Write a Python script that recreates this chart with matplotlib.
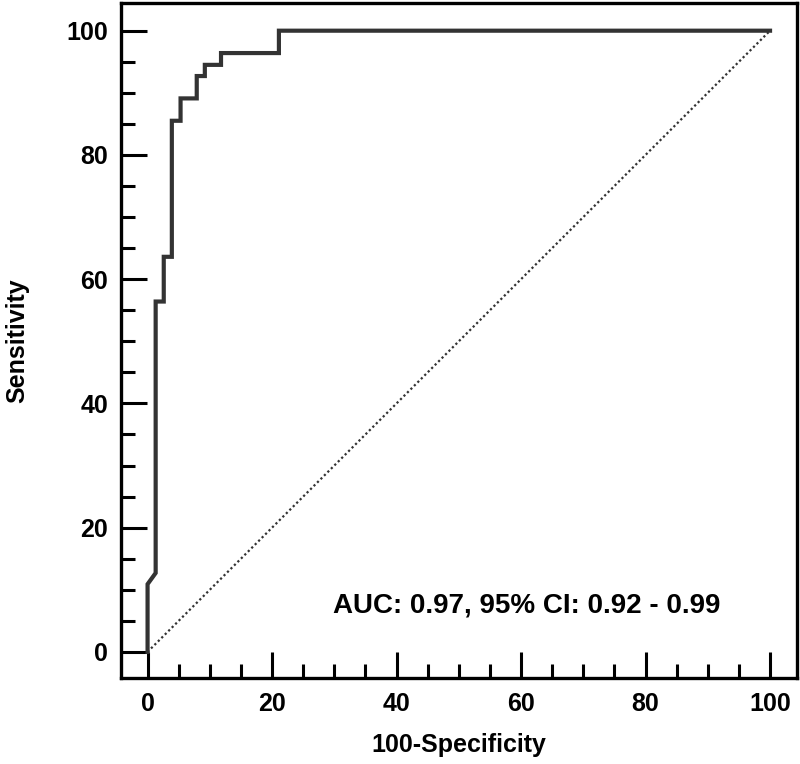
import matplotlib.pyplot as plt
from matplotlib.ticker import MultipleLocator

plt.rcParams['font.family'] = ['Liberation Sans', 'DejaVu Sans']

# ROC curve vertices (100-Specificity, Sensitivity)
fpr = [0, 0, 1.3, 1.3, 2.6, 2.6, 3.9, 3.9, 5.3, 5.3, 7.9, 7.9, 9.2, 9.2,
       11.8, 11.8, 21.1, 21.1, 100]
tpr = [0, 10.9, 12.7, 56.4, 56.4, 63.6, 63.6, 85.5, 85.5, 89.1, 89.1, 92.7,
       92.7, 94.5, 94.5, 96.4, 96.4, 100, 100]
ref_line = [0, 100]
ticks = [0, 20, 40, 60, 80, 100]
auc_text = 'AUC: 0.97, 95% CI: 0.92 - 0.99'

fig = plt.figure(figsize=(8, 7.64), dpi=100)
ax = fig.add_axes([0.151, 0.1126, 0.845, 0.883])

ax.plot(ref_line, ref_line, color='#333333', lw=1.6, ls=(0, (1, 1.2)))
ax.plot(fpr, tpr, color='#333333', lw=3, solid_joinstyle='miter')

ax.set_xlim(-4.3, 104.3)
ax.set_ylim(-4.2, 104.4)
ax.set_xticks(ticks)
ax.set_yticks(ticks)
ax.xaxis.set_minor_locator(MultipleLocator(5))
ax.yaxis.set_minor_locator(MultipleLocator(5))
ax.tick_params(which='major', direction='in', length=19, width=2.2,
               labelsize=18, color='black')
ax.tick_params(which='minor', direction='in', length=10, width=2.2,
               color='black')
ax.tick_params(axis='y', which='major', pad=9)
ax.tick_params(axis='x', which='major', pad=10)
for lab in ax.get_xticklabels() + ax.get_yticklabels():
    lab.set_fontweight('bold')
for sp in ax.spines.values():
    sp.set_linewidth(2.4)

ax.set_xlabel('100-Specificity', fontsize=18, fontweight='bold', labelpad=12)
ax.set_ylabel('Sensitivity', fontsize=18, fontweight='bold', labelpad=27)

ax.text(29.8, 7.4, auc_text, fontsize=20, fontweight='bold', va='center',
        ha='left')

fig.savefig('out.png', dpi=100, facecolor='white')
